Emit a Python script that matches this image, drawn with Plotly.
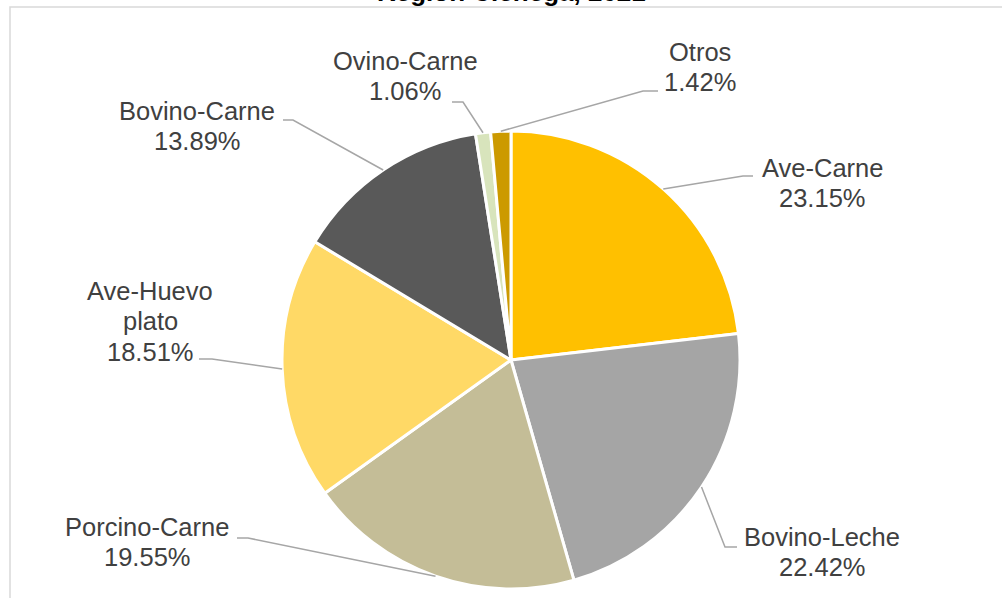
import math
import plotly.graph_objects as go

W, H = 1002, 598

categories = ["Ave-Carne", "Bovino-Leche", "Porcino-Carne", "Ave-Huevo plato",
              "Bovino-Carne", "Ovino-Carne", "Otros"]
values = [23.15, 22.42, 19.55, 18.51, 13.89, 1.06, 1.42]
colors = ["#FFC000", "#A5A5A5", "#C4BD97", "#FFD966", "#595959", "#D8E4BC", "#CC9A00"]
label_lines = [["Ave-Carne"], ["Bovino-Leche"], ["Porcino-Carne"], ["Ave-Huevo", "plato"],
               ["Bovino-Carne"], ["Ovino-Carne"], ["Otros"]]

# layout: pie geometry (pixels)
CX, CY, R = 511, 360, 229
# label block centers (pixels) and leader line elbow/end (pixels)
label_pos = [(822, 183), (822, 552), (147, 542), (150, 321), (197, 126), (405, 76), (700, 67)]
elbows = [((743, 176), (753, 176)), ((725, 547), (737, 547)), ((248, 538), (237, 538)),
          ((212, 359), (199, 359)), ((293, 120), (283, 120)), ((463, 102), (452, 102)),
          ((643, 91), (658, 91))]

def px(x):
    return x / W

def py(y):
    return 1 - y / H

fig = go.Figure()
fig.add_trace(go.Pie(
    labels=categories, values=values, sort=False, direction="clockwise", rotation=0,
    marker=dict(colors=colors, line=dict(color="white", width=3)),
    textinfo="none", hoverinfo="skip", showlegend=False,
    domain=dict(x=[px(CX - R), px(CX + R)], y=[py(CY + R), py(CY - R)]),
))

total = sum(values)
shapes = []
annotations = []
cum = 0.0
LS = 30.5
for i, v in enumerate(values):
    mid = (cum + v / 2) / total * 2 * math.pi
    cum += v
    sx = CX + R * math.sin(mid)
    sy = CY - R * math.cos(mid)
    (ex, ey), (tx, ty) = elbows[i]
    path = f"M {px(sx)} {py(sy)} L {px(ex)} {py(ey)} L {px(tx)} {py(ty)}"
    shapes.append(dict(type="path", xref="paper", yref="paper", path=path,
                       line=dict(color="#A6A6A6", width=1.5)))
    lines = label_lines[i] + [f"{v:.2f}%"]
    lx, ly = label_pos[i]
    n = len(lines)
    for k, t in enumerate(lines):
        yy = ly + (k - (n - 1) / 2) * LS
        annotations.append(dict(x=px(lx), y=py(yy), xref="paper", yref="paper",
                                text=t, showarrow=False, xanchor="center", yanchor="middle",
                                font=dict(family="Liberation Sans, Arial", size=25.5, color="#404040")))

# chart frame (cropped)
shapes.append(dict(type="rect", xref="paper", yref="paper", x0=px(10), x1=1.05, y0=-0.05, y1=py(7),
                   line=dict(color="#D9D9D9", width=1.5), fillcolor="rgba(0,0,0,0)", layer="below"))

# cropped title
annotations.append(dict(x=px(511), y=py(-8), xref="paper", yref="paper",
                        text="<b>Región Ciénega, 2021</b>", showarrow=False,
                        xanchor="center", yanchor="middle",
                        font=dict(family="Liberation Sans, Arial", size=26, color="#000000")))

fig.update_layout(width=W, height=H, margin=dict(l=0, r=0, t=0, b=0),
                  paper_bgcolor="white", plot_bgcolor="white",
                  shapes=shapes, annotations=annotations, showlegend=False)

fig.write_html("out.html", config={"displayModeBar": False},
               post_script="document.body.style.margin='0';document.body.style.overflow='hidden';")
